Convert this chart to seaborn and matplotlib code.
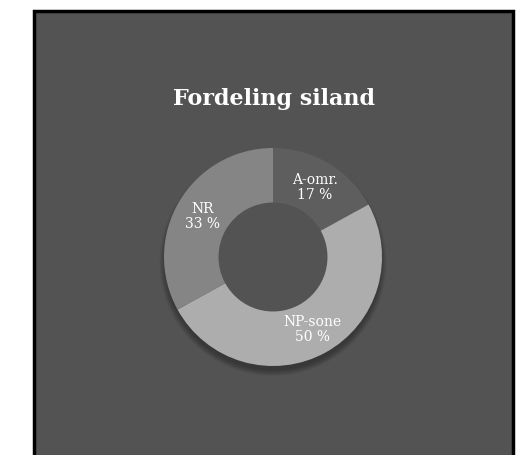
import numpy as np
import matplotlib
matplotlib.use("Agg")
import matplotlib.pyplot as plt
import seaborn as sns
from matplotlib.patches import Rectangle, Wedge

sns.set_theme(style="white")

labels = ["A-omr.", "NP-sone", "NR"]
shares = [17, 50, 33]
colors = ["#5e5e5e", "#adadad", "#858585"]
title = "Fordeling siland"

W, H = 525, 456
fig = plt.figure(figsize=(W / 100, H / 100), dpi=100)
fig.patch.set_facecolor("white")

# dark panel with black frame (bottom runs off the image)
panel = Rectangle((34 / W, -0.05), (513 - 34) / W, 1.05 - 12 / H,
                  transform=fig.transFigure, facecolor="#535353",
                  edgecolor="black", linewidth=2.5, zorder=0)
fig.patches.append(panel)

fig.text(274 / W, 1 - 99 / H, title, ha="center", va="center",
         color="white", fontsize=16, fontweight="bold", family="DejaVu Serif",
         zorder=3)

# donut axes: centre (273, 258) px, outer radius 109 px
cx, cy, r = 273, 258, 109
pad = 1.25
ax = fig.add_axes([(cx - r * pad) / W, 1 - (cy + r * pad) / H,
                   2 * r * pad / W, 2 * r * pad / H])
ax.set_zorder(2)
ax.set_facecolor("none")

# soft drop shadow, mostly below the ring
for k in range(6):
    ax.add_patch(Wedge((0.0, -0.05), 0.99 + 0.01 * k, 0, 360, width=0.1 + 0.01 * k,
                       facecolor="black", alpha=0.06, linewidth=0))

wedges, _ = ax.pie(shares, colors=colors, startangle=90, counterclock=False,
                   radius=1.0, wedgeprops=dict(width=0.5, edgecolor="none"))

total = sum(shares)
start = 90.0
for lab, val in zip(labels, shares):
    mid = np.deg2rad(start - 360 * val / total / 2)
    start -= 360 * val / total
    x, y = 0.75 * np.cos(mid), 0.75 * np.sin(mid)
    ax.text(x, y, f"{lab}\n{val} %", ha="center", va="center", color="white",
            fontsize=10, family="DejaVu Serif", linespacing=1.15)

ax.set_xlim(-pad, pad)
ax.set_ylim(-pad, pad)
ax.set_aspect("equal")
ax.axis("off")

fig.savefig("out.png", dpi=100, facecolor=fig.get_facecolor())
